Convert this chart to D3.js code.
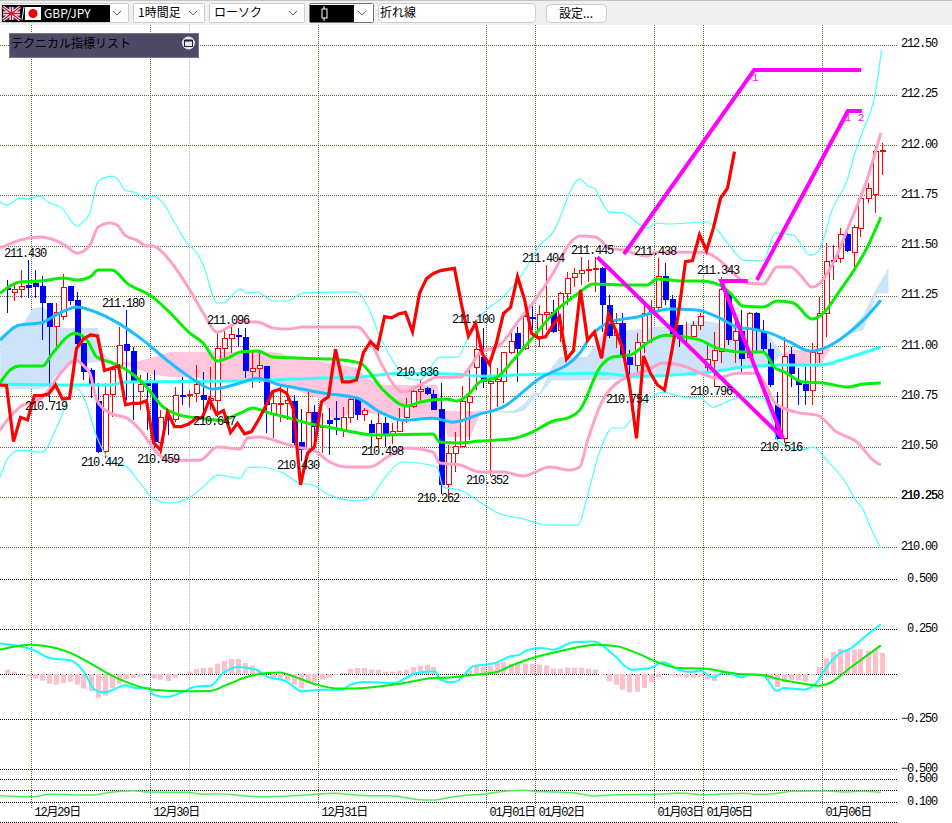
<!DOCTYPE html>
<html>
<head>
<meta charset="utf-8">
<style>
  html, body { margin: 0; padding: 0; background: #fff; }
  svg { display: block; }
  text { font-family: "Liberation Mono", "Noto Sans CJK JP", monospace; font-size: 12px; letter-spacing: -1.2px; fill: #000; }
  .ui text { font-family: "Noto Sans CJK JP", sans-serif; font-size: 12px; letter-spacing: 0; }
</style>
<script src="https://cdnjs.cloudflare.com/ajax/libs/d3/7.8.5/d3.min.js"></script>
</head>
<body>
<div id="chart"></div>
<script>
// hourly GBP/JPY candles, oldest first
const opens = [211.287,211.265,211.282,211.303,211.312,211.295,211.212,211.096,211.149,211.295,211.224,211.013,210.880,210.723,210.474,210.759,210.905,211.005,210.975,210.773,210.811,210.811,210.521,210.640,210.632,210.756,210.754,210.764,210.756,210.728,210.731,210.988,211.038,211.053,211.044,210.873,210.888,210.898,210.665,210.712,210.715,210.723,210.521,210.483,210.669,210.596,210.627,210.641,210.586,210.646,210.732,210.660,210.607,210.541,210.616,210.561,210.574,210.646,210.699,210.775,210.790,210.760,210.682,210.309,210.466,210.500,210.718,210.894,210.944,210.811,210.822,210.822,210.967,211.063,210.988,211.143,211.046,211.157,211.167,211.076,211.262,211.340,211.361,211.376,211.381,211.386,211.202,211.050,211.113,210.944,210.905,211.017,211.162,211.192,211.345,211.229,211.101,211.043,211.046,211.104,210.894,210.927,210.972,211.262,211.027,211.072,210.944,211.160,211.072,210.985,210.702,210.541,210.956,210.823,210.806,210.781,210.964,211.163,211.420,211.433,211.553,211.465,211.586,211.735,211.752,211.967]
const highs = [211.328,211.303,211.378,211.430,211.378,211.348,211.215,211.215,211.358,211.298,211.270,211.013,210.889,210.814,210.814,210.890,211.096,211.180,210.997,210.856,210.864,210.880,210.681,210.681,210.798,210.847,210.781,210.905,210.872,210.897,211.063,211.088,211.096,211.090,211.088,210.972,210.964,210.901,210.765,210.806,210.790,210.757,210.685,210.770,210.707,210.665,210.690,210.727,210.699,210.748,210.736,210.690,210.632,210.674,210.649,210.616,210.690,210.740,210.780,210.836,210.798,210.782,210.818,210.508,210.574,210.801,210.881,211.100,211.091,210.905,210.889,210.972,211.071,211.096,211.170,211.199,211.204,211.404,211.229,211.270,211.370,211.386,211.444,211.428,211.445,211.391,211.254,211.165,211.162,210.980,211.063,211.204,211.229,211.438,211.411,211.254,211.104,211.121,211.124,211.163,211.014,211.072,211.343,211.262,211.130,211.179,211.171,211.171,211.130,211.014,210.773,211.047,210.997,210.889,210.897,211.014,211.242,211.511,211.503,211.586,211.591,211.602,211.760,211.810,211.995,212.009]
const lows = [211.166,211.225,211.237,211.237,211.237,211.030,210.719,211.000,211.129,211.204,210.997,210.831,210.740,210.466,210.442,210.648,210.897,210.731,210.632,210.681,210.582,210.474,210.459,210.557,210.623,210.706,210.698,210.723,210.640,210.681,210.647,210.939,210.963,210.997,210.840,210.790,210.815,210.566,210.541,210.624,210.632,210.491,210.430,210.478,210.483,210.466,210.458,210.558,210.549,210.619,210.632,210.629,210.500,210.500,210.498,210.513,210.574,210.616,210.690,210.732,210.757,210.682,210.262,210.259,210.375,210.500,210.533,210.781,210.789,210.352,210.698,210.715,210.960,210.822,210.980,211.080,210.993,211.080,211.063,211.021,211.204,211.295,211.303,211.320,211.270,211.071,211.038,210.988,210.939,210.754,210.872,210.963,211.013,211.179,211.204,211.063,210.997,211.013,211.038,211.080,210.864,210.796,210.914,211.005,210.914,210.864,210.939,210.972,210.972,210.798,210.533,210.516,210.798,210.707,210.707,210.707,210.914,211.044,211.329,211.412,211.470,211.387,211.544,211.710,211.660,211.851]
const closes = [211.282,211.282,211.298,211.290,211.295,211.215,211.099,211.167,211.292,211.225,211.013,210.872,210.811,210.474,210.761,210.884,211.002,210.977,210.822,210.806,210.804,210.524,210.645,210.632,210.753,210.753,210.761,210.806,210.736,210.740,210.988,211.035,211.055,211.050,210.878,210.889,210.901,210.707,210.715,210.715,210.728,210.519,210.483,210.670,210.599,210.599,210.612,210.637,210.646,210.735,210.660,210.679,210.569,210.616,210.563,210.574,210.632,210.699,210.773,210.785,210.765,210.685,210.309,210.466,210.500,210.723,210.748,210.984,210.822,210.822,210.831,210.968,211.021,210.988,211.146,211.140,211.159,211.167,211.071,211.262,211.335,211.361,211.375,211.381,211.386,211.206,211.050,211.113,210.960,210.910,211.017,211.162,211.192,211.345,211.232,211.063,211.038,211.046,211.101,211.146,210.934,210.977,211.279,211.030,211.070,210.939,211.160,211.080,210.989,210.806,210.541,210.950,210.864,210.806,210.781,210.967,211.163,211.420,211.425,211.553,211.475,211.589,211.735,211.785,211.967,211.972]

// bands as [candle index, price]
const upperCyan = [[-0.9,211.716],[0.1,211.701],[1.9,211.736],[2.9,211.731],[4.8,211.746],[5.9,211.716],[7.9,211.686],[10.1,211.597],[10.9,211.617],[11.9,211.661],[12.9,211.806],[13.8,211.835],[15.1,211.845],[15.9,211.830],[16.9,211.776],[18.6,211.761],[20.1,211.731],[20.9,211.746],[22.4,211.711],[23.8,211.627],[25.8,211.512],[27.2,211.462],[28.1,211.403],[30.1,211.214],[30.9,211.214],[33.4,211.283],[34.4,211.263],[35.8,211.268],[38.1,211.224],[40.1,211.224],[42.4,211.263],[46.2,211.268],[50.1,211.268],[51.5,211.204],[53.4,211.044],[55.8,210.895],[57.2,210.840],[59.1,210.830],[61.9,210.945],[64.4,210.945],[66.2,211.064],[67.6,211.144],[70.9,211.243],[73.8,211.363],[76.2,211.502],[77.9,211.557],[81.9,211.830],[83.1,211.796],[84.1,211.781],[85.1,211.711],[86.2,211.666],[88.1,211.661],[91.5,211.587],[92.9,211.612],[94.4,211.607],[100.1,211.617],[100.9,211.602],[102.9,211.517],[104.4,211.452],[105.2,211.427],[108.1,211.423],[109.8,211.562],[112.4,211.552],[114.8,211.452],[115.9,211.467],[118.1,211.691],[120.1,211.825],[121.2,211.960],[122.4,212.074],[124.1,212.258],[125,212.472]]
const lowerCyan = [[-0.9,210.348],[0.2,210.442],[1.9,210.482],[5.1,210.472],[7.2,210.597],[9.8,210.796],[11.2,210.731],[12.9,210.547],[14.8,210.432],[17.2,210.398],[19.1,210.318],[20.9,210.243],[23.4,210.219],[26.2,210.248],[28.4,210.308],[30.1,210.358],[33.4,210.343],[34.4,210.393],[36.2,210.398],[39.5,210.368],[41.9,210.318],[43.8,210.308],[46.2,210.258],[50.1,210.229],[51.9,210.243],[53.8,210.333],[56.6,210.423],[61.5,210.398],[62.4,210.298],[64.8,210.283],[67.6,210.224],[70.5,210.164],[73.4,210.144],[77.4,210.109],[81.7,210.109],[82.9,210.243],[84.8,210.482],[86.6,210.592],[88.1,210.592],[90.1,210.681],[91.9,210.741],[93.8,210.771],[96.6,210.746],[99.1,210.741],[100.9,210.696],[103.4,210.731],[105.2,210.746],[108.1,210.741],[109.1,210.666],[110.1,210.532],[113.4,210.482],[115.2,210.497],[117.2,210.432],[120.5,210.283],[121,210.248],[122.4,210.184],[123.6,210.084],[124.9,209.995]]
const upperPink = [[-0.9,211.487],[1.9,211.527],[4.8,211.542],[8.1,211.507],[10.1,211.462],[11.9,211.502],[13.1,211.592],[14.8,211.612],[15.8,211.602],[16.9,211.552],[18.6,211.527],[20.1,211.497],[20.9,211.497],[22.4,211.462],[23.6,211.413],[26.2,211.278],[28.1,211.164],[30.1,211.069],[33.4,211.119],[35.8,211.119],[38.1,211.089],[40.1,211.084],[42.4,211.094],[50.1,211.094],[51.9,211.029],[53.8,210.895],[56.6,210.771],[59.1,210.806],[61.5,210.845],[64.8,210.845],[66.2,210.895],[67.6,210.965],[70.5,211.005],[72.9,211.114],[75.2,211.214],[78.1,211.363],[80.5,211.512],[81.9,211.547],[84.1,211.542],[86.2,211.487],[88.1,211.477],[91.5,211.447],[92.9,211.467],[99.5,211.467],[101.5,211.437],[103.8,211.363],[105.8,211.313],[108.1,211.308],[110.1,211.393],[112,211.393],[113.4,211.353],[115.1,211.293],[116.2,211.313],[118.1,211.413],[120.5,211.612],[122.9,211.825],[124.9,212.059]]
const lowerPink = [[-0.9,210.582],[0.1,210.631],[1.9,210.696],[5.2,210.746],[8.1,210.880],[9.8,210.930],[11.2,210.895],[11.9,210.865],[12.9,210.731],[14.8,210.666],[17.2,210.641],[19.1,210.582],[21.5,210.467],[23.4,210.432],[27.6,210.432],[30.1,210.497],[33.4,210.487],[34.4,210.542],[36.2,210.547],[39.5,210.517],[41.5,210.497],[43.8,210.482],[46.2,210.423],[48.6,210.398],[51.9,210.398],[54.4,210.447],[57.2,210.492],[60.9,210.472],[61.9,210.418],[64.8,210.408],[67.6,210.373],[70.9,210.373],[73.8,210.353],[77.6,210.398],[80.5,210.383],[81.9,210.398],[82.9,210.517],[85.2,210.731],[87.2,210.816],[88.6,210.845],[91.5,210.880],[93.8,210.915],[97.2,210.895],[99.1,210.865],[101.5,210.840],[104.4,210.865],[107.2,210.865],[108.6,210.796],[109.8,210.716],[113.4,210.666],[115.8,210.656],[118.6,210.572],[121.5,210.522],[123.8,210.432],[124.9,210.408]]
const upperGreen = [[-0.9,211.263],[1.9,211.318],[4.8,211.323],[8.1,211.338],[10.1,211.328],[11.9,211.343],[13.1,211.378],[15.1,211.378],[17.2,211.313],[20.9,211.243],[23.4,211.164],[26.2,211.064],[28.1,211.015],[30.1,210.925],[31.9,210.945],[33.4,210.970],[35.8,210.975],[38.1,210.945],[41.5,210.940],[46.2,210.935],[50.5,210.915],[53.8,210.781],[57.2,210.701],[59.1,210.721],[62.9,210.736],[64.4,210.726],[66.2,210.766],[67.6,210.821],[70.1,210.845],[72.4,210.930],[75.2,211.044],[78.6,211.179],[81.9,211.268],[83.8,211.308],[88.6,211.303],[91.5,211.303],[92.9,211.333],[96.6,211.323],[99.1,211.323],[101.9,211.303],[103.4,211.263],[105.2,211.199],[108.1,211.194],[110.1,211.224],[112.4,211.214],[115.1,211.134],[116.7,211.164],[119.1,211.278],[120.9,211.368],[122.9,211.487],[124.9,211.641]]
const lowerGreen = [[-0.9,210.816],[0.5,210.880],[1.9,210.900],[5.1,210.900],[6.6,210.965],[9.8,211.064],[11.5,211.029],[12.9,210.945],[15.2,210.915],[17.2,210.880],[19.5,210.816],[22.4,210.696],[24.8,210.656],[27.6,210.641],[30.5,210.631],[33.4,210.666],[35.2,210.691],[37.6,210.666],[40.5,210.641],[42.9,210.617],[46.6,210.592],[49.5,210.572],[52.4,210.557],[60.9,210.562],[61.9,210.522],[64.4,210.517],[67.6,210.527],[71.9,210.537],[74.8,210.567],[78.1,210.627],[80.5,210.646],[81.9,210.681],[84.8,210.895],[86.6,210.945],[89.1,210.955],[91.5,211.015],[94.1,211.054],[97.2,211.044],[99.1,211.029],[101.5,210.990],[105.2,210.970],[108.1,210.970],[109.8,210.890],[110.9,210.875],[113.8,210.821],[116.7,210.816],[120.1,210.796],[122.4,210.811],[124.9,210.816]]
const midBlue = [[-0.9,211.029],[1.9,211.104],[4.8,211.114],[7.6,211.164],[10.1,211.194],[11.9,211.179],[15.2,211.129],[19.5,211.029],[22.9,210.930],[26.2,210.845],[29.5,210.786],[33.4,210.816],[35.8,210.840],[39.1,210.806],[41.5,210.791],[45.2,210.766],[50.1,210.741],[53.4,210.671],[56.6,210.631],[60.9,210.641],[63.8,210.621],[67.6,210.661],[70.9,210.696],[75.8,210.830],[81.9,210.965],[83.4,211.044],[86.2,211.119],[90.1,211.144],[94.8,211.184],[98.6,211.179],[101.9,211.139],[104.4,211.094],[106.6,211.084],[109.1,211.064],[111.9,211.020],[114.8,210.975],[117.2,210.995],[119.5,211.044],[122.4,211.129],[124.9,211.228]]
const longCyan = [[-0.9,210.811],[9.5,210.806],[14.8,210.806],[17.2,210.821],[33.4,210.826],[44.4,210.840],[50.1,210.845],[56.2,210.865],[64.4,210.860],[67.6,210.850],[75.8,210.860],[84.4,210.865],[90.1,210.850],[94.8,210.855],[100.5,210.870],[105.2,210.895],[110.1,210.905],[116.2,210.905],[120.5,210.945],[124.9,210.995]]

// cloud pieces as [candle index, top, bottom]
const cloudBlue1 = [[-0.9,211.054,210.786],[2.4,211.114,210.786],[3.8,211.189,210.786],[5.2,211.194,210.786],[6.2,211.164,210.810],[7.2,211.089,210.860],[8.1,211.089,210.870],[9.8,211.089,210.930],[11.5,211.089,210.915],[13.1,211.089,210.920],[13.8,210.965,210.920],[15.2,210.920,210.920]]
const cloudPink1 = [[15.2,210.920,210.920],[18.4,210.920,210.890],[20.5,210.940,210.860],[23.4,210.970,210.846],[27.2,210.970,210.846],[29.5,210.970,210.816],[33.4,210.970,210.826],[35.8,210.975,210.826],[39.1,210.965,210.816],[40.5,210.945,210.791],[45.2,210.920,210.731],[46.6,210.910,210.631],[49.5,210.895,210.666],[50.1,210.890,210.656],[51.5,210.840,210.666],[53.8,210.806,210.656],[56.2,210.806,210.646],[61.5,210.806,210.641],[62.4,210.671,210.666],[63,210.676,210.547],[66.2,210.676,210.547],[67.9,210.676,210.676]]
const cloudBlue2 = [[67.9,210.676,210.676],[72.4,210.676,210.666],[74.1,210.716,210.681],[75.2,210.766,210.731],[76.2,210.766,210.756],[77.9,210.895,210.830],[79.1,210.945,210.830],[82.9,210.945,210.830],[85.2,211.064,210.830],[92.9,211.094,210.845],[95.8,211.094,210.850],[99.1,211.129,210.865],[101.5,211.114,210.875],[108.6,211.064,210.895],[110.5,210.980,210.945],[110.8,210.955,210.955]]
const cloudPink2 = [[110.8,210.955,210.955],[111.9,210.980,210.915],[115.9,210.980,210.890],[117.9,210.995,210.995]]
const cloudBlue3 = [[117.9,210.995,210.995],[120,211.064,211.054],[122.4,211.154,211.079],[124.4,211.293,211.263],[126,211.388,211.263]]

const trendLines = [
  [[88.2,211.457],[106.8,212.373],[122.1,212.373]],
  [[107.2,211.328],[120.2,212.169],[122.2,212.169]],
  [[84.4,211.442],[110.9,210.542]],
  [[105.9,211.323],[102.1,211.323],[110.9,210.542]]
]
const trendMarks = [['1',106.9,212.32],['1',120.1,212.12],['2',122,212.12]]

// swing labels: candle index, printed price, above (1) or below (0)
const swingLabels = [[3,'211.430',1],[17,'211.180',1],[32,'211.096',1],[6,'210.719',0],[14,'210.442',0],[22,'210.459',0],[30,'210.647',0],[42,'210.430',0],[54,'210.498',0],[59,'210.836',1],[62,'210.262',0],[67,'211.100',1],[69,'210.352',0],[77,'211.404',1],[84,'211.445',1],[93,'211.438',1],[89,'210.754',0],[102,'211.343',1],[101,'210.796',0],[111,'210.516',0]]

const macdBars = [.024,.013,.002,-.013,-.026,-.037,-.054,-.059,-.05,-.043,-.059,-.081,-.096,-.133,-.12,-.078,-.054,-.028,-.02,-.015,.002,-.026,-.031,-.039,-.022,0,.013,.028,.033,.035,.057,.072,.083,.083,.061,.046,.011,0,-.022,-.031,-.037,-.059,-.078,-.054,-.046,-.031,-.02,-.006,.006,.028,.033,.033,.024,.024,.013,.013,.019,.024,.039,.046,.052,.039,0,0,0,0,.024,.052,.043,.046,.061,.067,.056,.056,.057,.056,.052,.046,.03,.03,.035,.035,.035,.03,.024,-.007,-.041,-.059,-.087,-.102,-.098,-.078,-.046,-.017,.002,-.009,-.013,-.02,-.02,-.013,-.028,-.039,0,0,0,0,0,0,-.004,-.031,-.074,-.044,-.035,-.035,-.041,-.007,.039,.089,.122,.139,.131,.135,.139,.13,.135,.117]
const macdLine = [[-0.9,.169],[1.9,.154],[3.8,.135],[6.2,.089],[9.1,.076],[11,.015],[12.6,-.087],[13.8,-.102],[15.3,-.087],[16.9,-.063],[18.6,-.078],[20.3,-.078],[21,-.115],[22.9,-.128],[25.3,-.096],[27.2,-.069],[29.1,-.065],[31,.006],[33.1,.039],[35.7,.024],[37.2,-.013],[40,-.041],[42.2,-.096],[44.8,-.087],[48.1,-.087],[49.1,-.059],[51,-.044],[55.3,-.05],[58.6,.006],[61.2,.015],[62,-.031],[63.4,-.046],[64.3,-.041],[66.7,.043],[69.8,.061],[71.9,.098],[73.1,.104],[74.3,.131],[76.4,.144],[78.1,.135],[81,.176],[84,.181],[86.7,.107],[89.3,.024],[91.9,.033],[93.8,.065],[96.2,.02],[97.9,.011],[99,.019],[101,-.019],[102.4,.009],[103.9,-.004],[105,-.019],[106.2,-.004],[108.1,-.007],[110,-.093],[111,-.078],[113.9,-.087],[115.7,-.05],[116.9,.024],[119.1,.117],[120.5,.139],[122.4,.2],[124.9,.274]]
const macdSignal = [[-0.9,.135],[3.4,.163],[5.3,.157],[9.1,.117],[11.9,.061],[14.8,-.004],[18.1,-.059],[21,-.087],[25.7,-.096],[29.1,-.094],[31.5,-.059],[34.3,-.017],[37.2,.006],[39.1,.009],[41,-.013],[44.3,-.059],[47.6,-.081],[49.5,-.081],[56.2,-.054],[61,-.022],[63.4,-.019],[65.7,-.009],[70,.011],[71.9,.043],[74.8,.085],[79.5,.131],[84.3,.163],[87.2,.154],[90,.117],[92.9,.067],[96.2,.033],[99.5,.03],[104.3,.002],[107.6,-.004],[111,-.035],[113.9,-.054],[116.2,-.065],[117.6,-.05],[120.5,.033],[124.9,.159]]
const lowerPanel = [[-0.9,.21],[3.8,.192],[6.2,.234],[12.4,.222],[14.8,.269],[18.1,.297],[20,.274],[25.7,.269],[28.1,.234],[30,.244],[36.2,.192],[43.4,.227],[46.7,.251],[51.5,.21],[54.8,.21],[59.5,.135],[61,.135],[63.4,.182],[65.7,.217],[68.1,.234],[70.5,.279],[74.3,.304],[75.7,.279],[78.1,.274],[81.5,.251],[83.8,.204],[87.2,.227],[92.4,.234],[96.2,.257],[99.5,.227],[105.3,.251],[107.2,.234],[109.6,.244],[112.4,.286],[117.2,.291],[119.5,.274],[121.9,.286],[124.9,.269]]

const priceTicks = [212.5,212.25,212,211.75,211.5,211.25,211,210.75,210.5,210.25,210]
const macdTicks = [.5,.25,0,-.25,-.5]
const lowerTicks = [.5,.1]
const dateTicks = [[3.5,'12月29日'],[20.5,'12月30日'],[44.5,'12月31日'],[68.5,'01月01日'],[75.5,'01月02日'],[92.5,'01月03日'],[99.5,'01月05日'],[116.5,'01月06日']]
const lastPrice = '210.258'
const toolbarFields = ['1時間足','ローソク','折れ線','設定...']

const WIDTH = 952
const HEIGHT = 823
const GRID_RIGHT = 897
const LABEL_RIGHT = 937

const x = d3.scaleLinear().domain([0, 125]).range([6.5, 881.5])
const yPrice = d3.scaleLinear().domain([212, 210]).range([145, 547])
const yMacd = d3.scaleLinear().domain([-.5, -.25, 0, .25, .5]).range([769, 719, 674, 629, 579])
const yLower = d3.scaleLinear().domain([.1, .5]).range([802, 779])

const svg = d3.select('#chart').append('svg').attr('width', WIDTH).attr('height', HEIGHT)
svg.append('rect').attr('width', WIDTH).attr('height', HEIGHT).attr('fill', '#fff')

function drawGrid (scale, ticks, format, color) {
  const g = svg.append('g')
    .attr('transform', `translate(${GRID_RIGHT},0)`)
    .call(d3.axisRight(scale).tickValues(ticks).tickSize(-GRID_RIGHT).tickFormat(format))
  g.select('.domain').remove()
  g.selectAll('line')
    .attr('stroke', color)
    .attr('stroke-dasharray', '1,1')
    .attr('shape-rendering', 'crispEdges')
  g.selectAll('text')
    .attr('x', LABEL_RIGHT - GRID_RIGHT)
    .attr('dy', '0.17em')
    .attr('text-anchor', 'end')
    .attr('fill', '#000')
  return g
}

// vertical date lines first, they sit below everything
const dateAxis = svg.append('g')
  .attr('transform', 'translate(0,808)')
  .call(d3.axisBottom(x).tickValues(dateTicks.map(d => d[0])).tickSize(-783).tickFormat((d, i) => dateTicks[i][1]))
dateAxis.select('.domain').remove()
dateAxis.selectAll('line')
  .attr('stroke', '#5b6b2a')
  .attr('stroke-dasharray', '1,1')
  .attr('shape-rendering', 'crispEdges')
dateAxis.selectAll('text')
  .attr('text-anchor', 'start')
  .attr('x', 3)
  .attr('y', 8)
  .attr('dy', 0)
  .attr('fill', '#000')
svg.append('line')
  .attr('x1', x(26.14)).attr('x2', x(26.14)).attr('y1', 25).attr('y2', 804)
  .attr('stroke', '#bdbdbd').attr('stroke-dasharray', '1,1').attr('shape-rendering', 'crispEdges')

drawGrid(yPrice, priceTicks, d3.format('.2f'), '#5b6b2a')
drawGrid(yMacd, macdTicks, d => d === 0 ? '' : d3.format('.3f')(d), '#000')
drawGrid(yLower, lowerTicks, d3.format('.3f'), '#000')
svg.append('line')
  .attr('x1', 0).attr('x2', GRID_RIGHT).attr('y1', yLower(.3)).attr('y2', yLower(.3))
  .attr('stroke', '#000').attr('stroke-dasharray', '1,1').attr('shape-rendering', 'crispEdges')
svg.append('line')
  .attr('x1', 0).attr('x2', GRID_RIGHT).attr('y1', 822).attr('y2', 822)
  .attr('stroke', '#000').attr('stroke-dasharray', '1,1').attr('shape-rendering', 'crispEdges')

// the live price overprints the 210.25 tick
svg.append('text').attr('x', LABEL_RIGHT - 36).attr('y', yPrice(210.25) + 0.5).attr('dy', '0.17em').text(lastPrice)

// ichimoku cloud
const cloudArea = d3.area().x(d => x(d[0])).y0(d => yPrice(d[2])).y1(d => yPrice(d[1]))
const cloudParts = [[cloudBlue1, '#cce3fa'], [cloudPink1, '#ffc6dd'], [cloudBlue2, '#cce3fa'], [cloudPink2, '#ffc6dd'], [cloudBlue3, '#cce3fa']]
svg.append('g').selectAll('path').data(cloudParts).join('path')
  .attr('d', d => cloudArea(d[0]))
  .attr('fill', d => d[1])

// candles
const candles = svg.append('g').selectAll('g').data(closes).join('g')
  .attr('stroke', (d, i) => d >= opens[i] ? '#f00' : '#00f')
  .attr('shape-rendering', 'crispEdges')
candles.append('line')
  .attr('x1', (d, i) => Math.round(x(i)) + 0.5)
  .attr('x2', (d, i) => Math.round(x(i)) + 0.5)
  .attr('y1', (d, i) => yPrice(highs[i]))
  .attr('y2', (d, i) => yPrice(lows[i]))
candles.append('rect')
  .attr('x', (d, i) => Math.round(x(i)) - 2)
  .attr('width', 5)
  .attr('y', (d, i) => yPrice(Math.max(d, opens[i])))
  .attr('height', (d, i) => Math.max(1, yPrice(Math.min(d, opens[i])) - yPrice(Math.max(d, opens[i]))))
  .attr('fill', (d, i) => d >= opens[i] ? '#fff' : '#00f')

const bandLine = d3.line().x(d => x(d[0])).y(d => yPrice(d[1])).curve(d3.curveMonotoneX)
const straightLine = d3.line().x(d => x(d[0])).y(d => yPrice(d[1]))
const bands = [
  [upperCyan, '#4dffff', 1.2],
  [lowerCyan, '#4dffff', 1.2],
  [longCyan, '#33ffff', 3],
  [upperPink, '#ffa0c8', 3],
  [lowerPink, '#ffa0c8', 3],
  [midBlue, '#19bfff', 3],
  [upperGreen, '#00f000', 3],
  [lowerGreen, '#00f000', 3]
]
svg.append('g').selectAll('path').data(bands).join('path')
  .attr('d', d => bandLine(d[0]))
  .attr('fill', 'none')
  .attr('stroke', d => d[1])
  .attr('stroke-width', d => d[2])
  .attr('stroke-linejoin', 'round')

// lagging line is just the closes pushed 20 bars back, without the live bar
const lagging = closes.slice(19, 125).map((d, i) => [i - 1, d])
svg.append('path')
  .attr('d', straightLine(lagging))
  .attr('fill', 'none')
  .attr('stroke', '#f00')
  .attr('stroke-width', 3.2)
  .attr('stroke-linejoin', 'miter')

svg.append('g').selectAll('path').data(trendLines).join('path')
  .attr('d', d => straightLine(d))
  .attr('fill', 'none')
  .attr('stroke', '#f0f')
  .attr('stroke-width', 4)
svg.append('g').selectAll('text').data(trendMarks).join('text')
  .attr('x', d => x(d[1]))
  .attr('y', d => yPrice(d[2]))
  .attr('text-anchor', 'middle')
  .style('fill', '#f0f')
  .style('font-size', '11px')
  .text(d => d[0])

svg.append('g').selectAll('text').data(swingLabels).join('text')
  .attr('x', d => x(d[0]) - 2.5)
  .attr('y', d => yPrice(+d[1]) + (d[2] ? -7 : 4))
  .attr('dy', '0.33em')
  .attr('text-anchor', 'middle')
  .text(d => d[1])

// MACD panel
svg.append('g').selectAll('rect').data(macdBars).join('rect')
  .attr('x', (d, i) => Math.round(x(i)) - 2)
  .attr('width', 5)
  .attr('y', d => Math.min(yMacd(d), yMacd(0)))
  .attr('height', d => Math.abs(yMacd(d) - yMacd(0)))
  .attr('fill', '#ffc0cb')
const macdPath = d3.line().x(d => x(d[0])).y(d => yMacd(d[1])).curve(d3.curveMonotoneX)
svg.append('path').attr('d', macdPath(macdLine)).attr('fill', 'none').attr('stroke', '#1ff').attr('stroke-width', 2)
svg.append('path').attr('d', macdPath(macdSignal)).attr('fill', 'none').attr('stroke', '#0e0').attr('stroke-width', 2)

const lowerPath = d3.line().x(d => x(d[0])).y(d => yLower(d[1])).curve(d3.curveMonotoneX)
svg.append('path').attr('d', lowerPath(lowerPanel)).attr('fill', 'none').attr('stroke', '#55f055').attr('stroke-width', 1.5)

// toolbar and the floating list title
const ui = svg.append('g').attr('class', 'ui')
ui.append('rect').attr('width', WIDTH).attr('height', 25).attr('fill', '#f0f0f0')
ui.append('rect').attr('width', WIDTH).attr('height', 1).attr('fill', '#c4c4c4')

function chevron (cx) {
  ui.append('path')
    .attr('d', `M${cx - 4},11 L${cx},15 L${cx + 4},11`)
    .attr('fill', 'none').attr('stroke', '#666')
}
function select (x0, x1, label, dark) {
  ui.append('rect')
    .attr('x', x0 + 0.5).attr('y', 3.5).attr('width', x1 - x0).attr('height', 19)
    .attr('fill', '#fff').attr('stroke', dark ? '#777' : '#ccc').attr('rx', 1)
  ui.append('text').attr('x', x0 + 5).attr('y', 17).text(label)
  chevron(x1 - 11)
}
select(1, 128, '')
ui.append('rect').attr('x', 2).attr('y', 5).attr('width', 108).attr('height', 17).attr('fill', '#000')
ui.append('rect').attr('x', 3).attr('y', 7).attr('width', 17).attr('height', 13).attr('fill', '#1a2f8f')
ui.append('path').attr('d', 'M3,7 L20,20 M20,7 L3,20').attr('stroke', '#fff').attr('stroke-width', 3)
ui.append('path').attr('d', 'M11.5,7 V20 M3,13.5 H20').attr('stroke', '#fff').attr('stroke-width', 4)
ui.append('path').attr('d', 'M11.5,7 V20 M3,13.5 H20 M3,7 L20,20 M20,7 L3,20').attr('stroke', '#e01020').attr('stroke-width', 1.5)
ui.append('path').attr('d', 'M22,20 L24,7').attr('stroke', '#fff')
ui.append('rect').attr('x', 25).attr('y', 7).attr('width', 16).attr('height', 13).attr('fill', '#fff')
ui.append('circle').attr('cx', 33).attr('cy', 13.5).attr('r', 4.5).attr('fill', '#e00')
ui.append('text').attr('x', 44).attr('y', 18).style('fill', '#fff').text('GBP/JPY')
select(133, 204, toolbarFields[0])
select(209, 304, toolbarFields[1])
select(309, 373, '', true)
ui.append('rect').attr('x', 310).attr('y', 5).attr('width', 44).attr('height', 17).attr('fill', '#000')
ui.append('path').attr('d', 'M324,6 V21').attr('stroke', '#fff')
ui.append('rect').attr('x', 322).attr('y', 9).attr('width', 5).attr('height', 9).attr('fill', '#000').attr('stroke', '#fff')
ui.append('rect').attr('x', 378.5).attr('y', 3.5).attr('width', 157).attr('height', 19).attr('rx', 4).attr('fill', '#fff').attr('stroke', '#ccc')
ui.append('text').attr('x', 380).attr('y', 17).text(toolbarFields[2])
ui.append('rect').attr('x', 546.5).attr('y', 4.5).attr('width', 60).attr('height', 18).attr('rx', 4).attr('fill', '#fff').attr('stroke', '#ccc')
ui.append('text').attr('x', 576).attr('y', 18).attr('text-anchor', 'middle').text(toolbarFields[3])

ui.append('rect').attr('x', 9.5).attr('y', 33.5).attr('width', 189).attr('height', 24).attr('fill', '#4c4a66').attr('stroke', '#77768a')
ui.append('text').attr('x', 11).attr('y', 48).text('テクニカル指標リスト')
ui.append('circle').attr('cx', 188.5).attr('cy', 43).attr('r', 6.5).attr('fill', '#fff').attr('opacity', 0.85)
ui.append('rect').attr('x', 184.5).attr('y', 40.5).attr('width', 8).attr('height', 6).attr('fill', '#e8e8f0').attr('stroke', '#222')
ui.append('rect').attr('x', 184.5).attr('y', 39.5).attr('width', 8).attr('height', 2).attr('fill', '#222')
</script>
</body>
</html>
